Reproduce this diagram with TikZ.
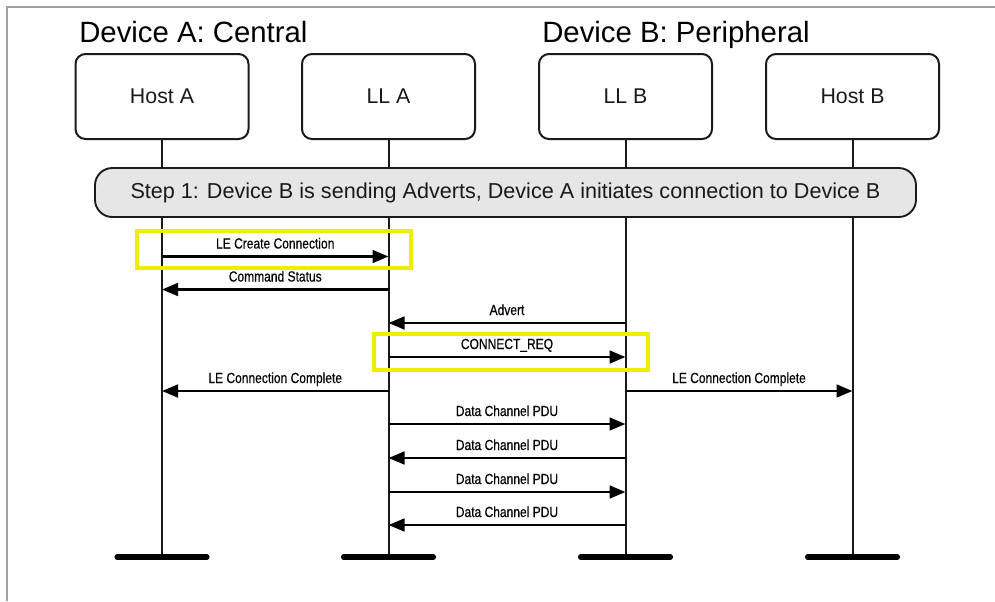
\documentclass[tikz,border=0pt]{standalone}
\usepackage{fontspec}
\setmainfont{Liberation Sans}
\newfontfamily\narrowsans[FakeStretch=0.82,FakeBold=0.4]{Liberation Sans}
\usetikzlibrary{arrows.meta}
\definecolor{framegray}{HTML}{A0A0A0}
\definecolor{inkgray}{HTML}{1A1A1A}
\definecolor{bannerfill}{HTML}{E6E6E6}
\definecolor{hiliteyellow}{HTML}{EEEE00}
\tikzset{
  unitbox/.style={draw=inkgray, line width=1.5pt, rounded corners=7.5pt,
    minimum width=129.75pt, minimum height=63.75pt, inner sep=0pt,
    font=\fontsize{16pt}{18pt}\selectfont, text=inkgray},
  devtitle/.style={anchor=base west, inner sep=0pt,
    font=\fontsize{22pt}{26pt}\selectfont, text=black},
  lifeline/.style={draw=inkgray, line width=1.5pt},
  endbar/.style={draw=black, line width=3.8pt, line cap=round},
  banner/.style={draw=inkgray, line width=1.4pt, fill=bannerfill,
    rounded corners=13pt, minimum width=615.75pt, minimum height=36.75pt,
    inner sep=0pt, font=\fontsize{16.2pt}{19pt}\selectfont, text=inkgray},
  msg/.style={draw=black, line width=2pt,
    -{Triangle[length=12pt,width=9.5pt]}},
  msglabel/.style={midway, anchor=base, yshift=6pt, inner sep=0pt,
    font=\narrowsans\fontsize{11pt}{13pt}\selectfont, text=black},
  hilite/.style={draw=hiliteyellow, line width=2.6pt},
}
\begin{document}
\begin{tikzpicture}[x=0.75pt,y=-0.75pt]
\useasboundingbox (0,0) rectangle (995,601);
\fill[white] (0,0) rectangle (995,601);
% page frame
\draw[framegray, line width=1.5pt] (7,601) -- (7,7) -- (995,7);

% device titles
\node[devtitle] (tA) at (79,42) {Device A: Central};
\node[devtitle] (tB) at (542,42) {Device B: Peripheral};

% protocol layers
\node[unitbox] (hA) at (162,96.5) {Host A};
\node[unitbox] (lA) at (388.5,96.5) {LL A};
\node[unitbox] (lB) at (625.5,96.5) {LL B};
\node[unitbox] (hB) at (852.5,96.5) {Host B};

% lifeline ends
\coordinate (hAe) at (162,557);
\coordinate (lAe) at (388.5,557);
\coordinate (lBe) at (625.5,557);
\coordinate (hBe) at (852.5,557);

\foreach \u in {hA,lA,lB,hB}{
  \draw[lifeline] (\u) -- (\u e);
  \draw[endbar] ([xshift=-33.75pt]\u e) -- ([xshift=33.75pt]\u e);
}

% step banner
\node[banner] (step) at (505.5,192.5)
  {Step 1: Device B is sending Adverts, Device A initiates connection to Device B};

% message rows
\coordinate (m1) at (0,256.5);
\coordinate (m2) at (0,289.5);
\coordinate (m3) at (0,323);
\coordinate (m4) at (0,357);
\coordinate (m5) at (0,391);
\coordinate (m6) at (0,424);
\coordinate (m7) at (0,458);
\coordinate (m8) at (0,492);
\coordinate (m9) at (0,525);

\draw[msg] (hA |- m1) -- node[msglabel] {LE Create Connection} (lA |- m1);
\draw[msg] (lA |- m2) -- node[msglabel] {Command Status} (hA |- m2);
\draw[msg] (lB |- m3) -- node[msglabel] {Advert} (lA |- m3);
\draw[msg] (lA |- m4) -- node[msglabel] {CONNECT\_REQ} (lB |- m4);
\draw[msg] (lA |- m5) -- node[msglabel] {LE Connection Complete} (hA |- m5);
\draw[msg] (lB |- m5) -- node[msglabel] {LE Connection Complete} (hB |- m5);
\draw[msg] (lA |- m6) -- node[msglabel] {Data Channel PDU} (lB |- m6);
\draw[msg] (lB |- m7) -- node[msglabel] {Data Channel PDU} (lA |- m7);
\draw[msg] (lA |- m8) -- node[msglabel] {Data Channel PDU} (lB |- m8);
\draw[msg] (lB |- m9) -- node[msglabel] {Data Channel PDU} (lA |- m9);

% highlighted exchanges
\draw[hilite] (137,231) rectangle (411,268);
\draw[hilite] (374,334) rectangle (648,370);
\end{tikzpicture}
\end{document}
